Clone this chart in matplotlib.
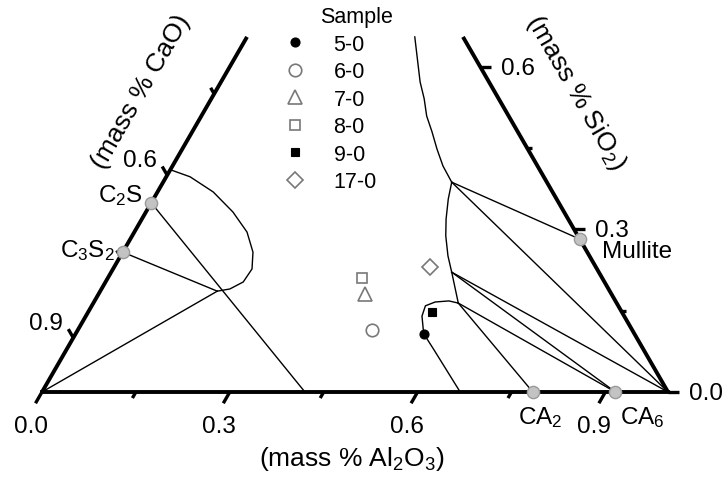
import numpy as np
import matplotlib
matplotlib.use('Agg')
import matplotlib.pyplot as plt
from matplotlib.lines import Line2D

plt.rcParams['font.family'] = ['Liberation Sans', 'DejaVu Sans']
plt.rcParams['mathtext.fontset'] = 'custom'
plt.rcParams['mathtext.rm'] = 'Liberation Sans'
plt.rcParams['mathtext.it'] = 'Liberation Sans:italic'
plt.rcParams['mathtext.default'] = 'rm'

# ---------------- data (mass fractions: Al2O3, SiO2; CaO = 1 - both) ----------------
compound_names = ['C$_2$S', 'C$_3$S$_2$', 'Mullite', 'CA$_2$', 'CA$_6$']
compound_al2o3 = [0.0, 0.0, 0.718, 0.784, 0.916]
compound_sio2 = [0.349, 0.258, 0.282, 0.0, 0.0]

sample_names = ['5-0', '6-0', '7-0', '8-0', '9-0', '17-0']
sample_al2o3 = [0.557, 0.470, 0.426, 0.406, 0.549, 0.504]
sample_sio2 = [0.107, 0.114, 0.181, 0.210, 0.148, 0.231]

# boundary curves
left_loop_al2o3 = [0.0, 0.038, 0.089, 0.139, 0.180, 0.208, 0.222, 0.220, 0.205, 0.187]
left_loop_sio2 = [0.41, 0.397, 0.369, 0.332, 0.295, 0.258, 0.227, 0.203, 0.190, 0.186]

upper_curve_al2o3 = [0.268, 0.318, 0.340, 0.360, 0.383, 0.407, 0.432, 0.461]
upper_curve_sio2 = [0.655, 0.572, 0.541, 0.509, 0.480, 0.448, 0.417, 0.387]

middle_curve_al2o3 = [0.461, 0.471, 0.486, 0.501, 0.523, 0.544, 0.583]
middle_curve_sio2 = [0.387, 0.356, 0.319, 0.288, 0.251, 0.221, 0.164]

small_loop_al2o3 = [0.583, 0.566, 0.545, 0.533, 0.537, 0.551, 0.566, 0.586, 0.668]
small_loop_sio2 = [0.164, 0.168, 0.166, 0.159, 0.140, 0.116, 0.098, 0.079, 0.0]

# tie lines: (Al2O3_1, SiO2_1, Al2O3_2, SiO2_2)
tie_lines = [
    (0.0, 0.0, 0.187, 0.186),
    (0.0, 0.258, 0.187, 0.186),
    (0.0, 0.349, 0.42, 0.0),
    (0.461, 0.387, 0.718, 0.282),
    (0.461, 0.387, 1.0, 0.0),
    (0.544, 0.221, 0.916, 0.0),
    (0.544, 0.221, 1.0, 0.0),
    (0.583, 0.164, 0.916, 0.0),
    (0.583, 0.164, 0.784, 0.0),
]

bottom_ticks = [0.0, 0.15, 0.3, 0.45, 0.6, 0.75, 0.9]
bottom_labels = ['0.0', '0.3', '0.6', '0.9']
left_ticks = [0.9, 0.75, 0.6, 0.45]      # CaO
left_labels = ['0.9', '0.6']
right_ticks = [0.0, 0.15, 0.3, 0.45, 0.6]  # SiO2
right_labels = ['0.0', '0.3', '0.6']
top_cut = 0.655

# ---------------- helpers ----------------
R3 = np.sqrt(3) / 2
PX = 1 / 626.0


def xy(a, s):
    a = np.asarray(a, float)
    s = np.asarray(s, float)
    return a + s / 2, s * R3


fig = plt.figure(figsize=(7.24, 4.81), dpi=100)
ax = fig.add_axes([0, 0, 1, 1])
ax.set_xlim(-42 * PX, (724 - 42) * PX)
ax.set_ylim((393 - 481) * PX, 393 * PX)
ax.axis('off')

thick = 2.8
thin = 1.0
FS_TICK = 17.5
FS_TITLE = 19
FS_LEG = 15.5

# frame edges
x, y = xy([0, 0], [0, top_cut])
ax.plot(x, y, color='black', lw=thick, solid_capstyle='butt', zorder=3)
x, y = xy([1 - top_cut, 1], [top_cut, 0])
ax.plot(x, y, color='black', lw=thick, solid_capstyle='butt', zorder=3)
x, y = xy([0, 1], [0, 0])
ax.plot(x, y, color='black', lw=thick, solid_capstyle='projecting', zorder=3)

major_len = 13 * PX
minor_len = 7 * PX


def is_major(v, labels):
    return any(abs(v - float(l)) < 1e-6 for l in labels)


# bottom ticks (Al2O3): pointing down-left
d = np.array([-0.5, -R3])
for v in bottom_ticks:
    bx, by = xy(v, 0)
    L = major_len if is_major(v, bottom_labels) else minor_len
    ax.plot([bx, bx + d[0] * L], [by, by + d[1] * L], color='black', lw=2.4,
            solid_capstyle='butt', zorder=3)
    if is_major(v, bottom_labels):
        ax.text(bx - 11 * PX, by - 34 * PX, f'{v:.1f}', ha='center', va='center',
                fontsize=FS_TICK)

# left ticks (CaO): pointing up-left
d = np.array([-0.5, R3])
for v in left_ticks:
    bx, by = xy(0, 1 - v)
    L = (10 * PX) if is_major(v, left_labels) else minor_len
    ax.plot([bx, bx + d[0] * L], [by, by + d[1] * L], color='black', lw=2.4,
            solid_capstyle='butt', zorder=3)
    if is_major(v, left_labels):
        ax.text(bx - 27 * PX, by + 15 * PX, f'{v:.1f}', ha='center', va='center',
                fontsize=FS_TICK)

# right ticks (SiO2): pointing right
for v in right_ticks:
    bx, by = xy(1 - v, v)
    L = (11 * PX) if is_major(v, right_labels) else (5 * PX)
    ax.plot([bx, bx + L], [by, by], color='black', lw=2.4, solid_capstyle='butt', zorder=3)
    if is_major(v, right_labels):
        ax.text(bx + 38 * PX, by - 1 * PX, f'{v:.1f}', ha='center', va='center',
                fontsize=FS_TICK)

# axis titles
ax.text((141 - 42) * PX, (393 - 92) * PX, '(mass % CaO)', rotation=60, ha='center',
        va='center', rotation_mode='anchor', fontsize=FS_TITLE)
ax.text((576 - 42) * PX, (393 - 92) * PX, '(mass % SiO$_2$)', rotation=-60, ha='center',
        va='center', rotation_mode='anchor', fontsize=FS_TITLE)
ax.text((352 - 42) * PX, (393 - 459) * PX, '(mass % Al$_2$O$_3$)', ha='center', va='center',
        fontsize=FS_TITLE)

# phase boundaries
for aa, ss in [(left_loop_al2o3, left_loop_sio2), (upper_curve_al2o3, upper_curve_sio2),
               (middle_curve_al2o3, middle_curve_sio2), (small_loop_al2o3, small_loop_sio2)]:
    x, y = xy(aa, ss)
    ax.plot(x, y, color='black', lw=thin, zorder=2, solid_joinstyle='round')
for a1, s1, a2, s2 in tie_lines:
    x, y = xy([a1, a2], [s1, s2])
    ax.plot(x, y, color='black', lw=thin, zorder=2)

# compounds
cx, cy = xy(compound_al2o3, compound_sio2)
ax.plot(cx, cy, ls='none', marker='o', ms=8.8, mfc='#c3c3c3', mec='#9a9a9a', mew=1.0, zorder=4)
label_off = {
    'C$_2$S': (-8, 8, 'right'),
    'C$_3$S$_2$': (-8, 3, 'right'),
    'Mullite': (22, -12, 'left'),
    'CA$_2$': (7, -25, 'center'),
    'CA$_6$': (5, -25, 'left'),
}
for name, px_, py_ in zip(compound_names, cx, cy):
    ox, oy, ha = label_off[name]
    ax.text(px_ + ox * PX, py_ + oy * PX, name, ha=ha, va='center', fontsize=FS_TICK)

# samples
gray = '#787878'
styles = [
    dict(marker='o', ms=6.5, mfc='black', mec='black', mew=0.8),
    dict(marker='o', ms=9.0, mfc='none', mec=gray, mew=1.2),
    dict(marker='^', ms=9.5, mfc='none', mec=gray, mew=1.2),
    dict(marker='s', ms=7.5, mfc='none', mec=gray, mew=1.2),
    dict(marker='s', ms=5.5, mfc='black', mec='black', mew=0.8),
    dict(marker='D', ms=7.8, mfc='none', mec=gray, mew=1.2),
]
sx, sy = xy(sample_al2o3, sample_sio2)
handles = []
for i in range(len(sample_names)):
    ax.plot([sx[i]], [sy[i]], ls='none', zorder=5, **styles[i])
    handles.append(Line2D([], [], ls='none', **styles[i]))

leg = ax.legend(handles, sample_names, loc='upper left',
                bbox_to_anchor=(284 / 724, 1 - 35 / 481), bbox_transform=fig.transFigure,
                frameon=False, fontsize=FS_LEG, handlelength=1.0, handletextpad=1.3,
                labelspacing=0.3, borderpad=0, borderaxespad=0)
ax.text((357 - 42) * PX, (393 - 18) * PX, 'Sample', ha='center', va='center', fontsize=FS_LEG)

fig.savefig('out.png', dpi=100)
